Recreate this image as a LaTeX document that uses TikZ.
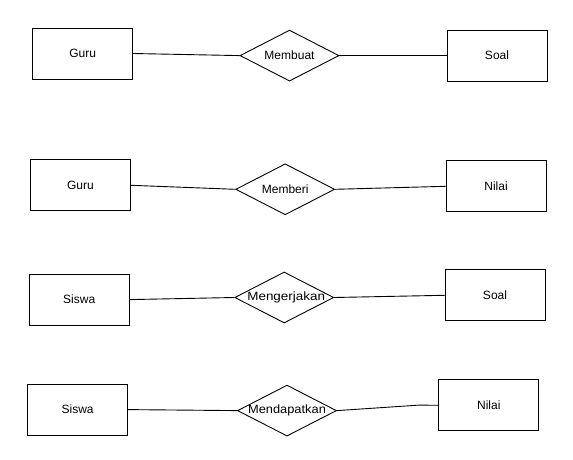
\documentclass[tikz,border=0pt]{standalone}
\usepackage{fontspec}
\setmainfont{Liberation Sans}
\usetikzlibrary{shapes.geometric}
\begin{document}
\begin{tikzpicture}[x=1pt,y=-1pt,
  entity/.style={draw, line width=0.9pt, rectangle, minimum width=100pt, minimum height=51pt, inner sep=0pt, font=\fontsize{12}{14}\selectfont},
  relation/.style={draw, line width=0.9pt, shape=diamond, minimum width=99pt, minimum height=51pt, inner sep=0pt, font=\fontsize{12}{14}\selectfont},
  link/.style={draw, line width=0.9pt}]
\useasboundingbox (0,0) rectangle (573,460);
% Row 1
\node[entity] (guru1) at (82.6,53.5) {Guru};
\node[relation] (membuat) at (289.5,55.6) {\makebox[0pt]{Membuat}};
\node[entity] (soal1) at (497,55.6) {Soal};
\draw[link] (guru1.east) -- (membuat.west);
\draw[link] (membuat.east) -- (soal1.west);
% Row 2
\node[entity] (guru2) at (80.4,185.3) {Guru};
\node[relation] (memberi) at (285.2,189.3) {\makebox[0pt]{Memberi}};
\node[entity] (nilai1) at (496,186.3) {Nilai};
\draw[link] (guru2.east) -- (memberi.west);
\draw[link] (memberi.east) -- (nilai1.west);
% Row 3
\node[entity] (siswa1) at (79.2,299.6) {Siswa};
\node[relation] (mengerjakan) at (284.2,297.5) {\makebox[0pt]{\hspace*{4pt}\scalebox{1.12}[1]{Mengerjakan}}};
\node[entity] (soal2) at (495,295.3) {Soal};
\draw[link] (siswa1.east) -- (mengerjakan.west);
\draw[link] (mengerjakan.east) -- (soal2.west);
% Row 4
\node[entity] (siswa2) at (77.6,409.6) {Siswa};
\node[relation] (mendapatkan) at (287,410.6) {\makebox[0pt]{\scalebox{1.07}[1]{Mendapatkan}}};
\node[entity] (nilai2) at (488.8,405.3) {Nilai};
\coordinate (k4) at (419,405.1);
\draw[link] (siswa2.east) -- (mendapatkan.west);
\draw[link] (mendapatkan.east) -- (k4) -- (nilai2.west);
\end{tikzpicture}
\end{document}
